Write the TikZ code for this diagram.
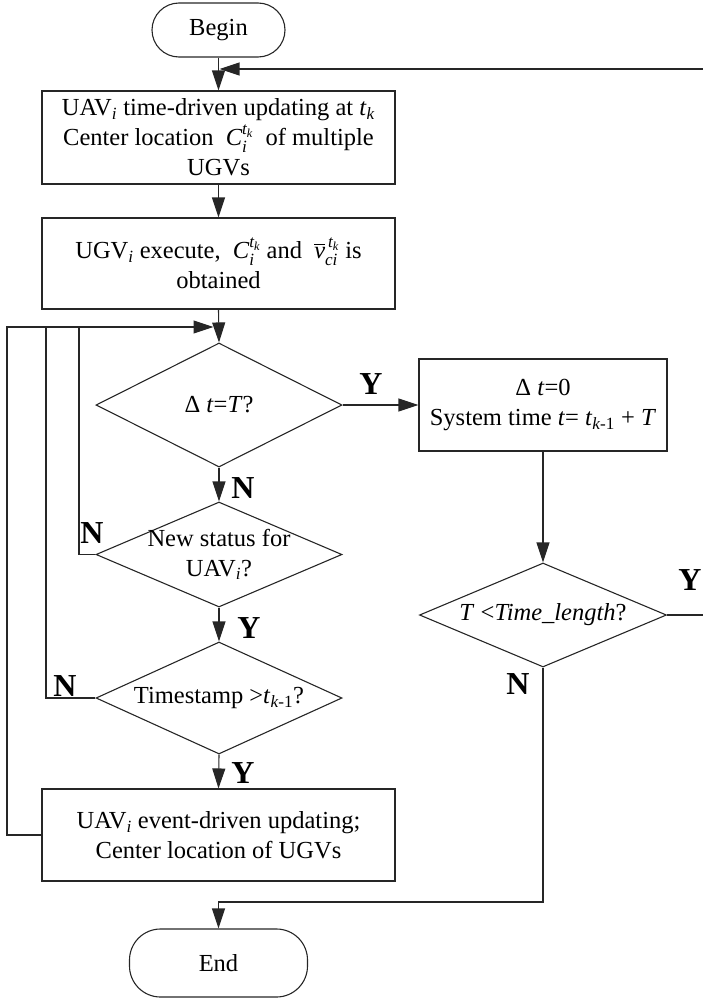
\documentclass[tikz,border=0pt]{standalone}
\usepackage{amsmath}
\usepackage{fontspec}
\setmainfont{Liberation Serif}
\usetikzlibrary{arrows.meta,shapes.geometric}
\tikzset{
  every node/.style={font=\fontsize{24.5}{30}\selectfont},
  ln/.style={draw=black!85, line width=1.1pt},
  arr/.style={ln, -{Triangle[length=20pt,width=13pt]}},
  proc/.style={ln, rectangle, align=center, inner sep=0pt},
  term/.style={ln, rectangle, inner sep=0pt},
  dia/.style={ln, diamond, inner sep=0pt},
  txt/.style={align=center, inner sep=0pt},
  lab/.style={font=\fontsize{32}{32}\selectfont\bfseries, inner sep=0pt}
}
\begin{document}
\begin{tikzpicture}[x=1pt,y=-1pt]
\useasboundingbox (0,0) rectangle (703,1001);
% terminals
\node[term, minimum width=133pt, minimum height=54pt, rounded corners=27pt] (begin) at (218.5,30) {Begin};
\node[term, minimum width=178pt, minimum height=68pt, rounded corners=31pt] (end) at (218.5,963) {End};
% process boxes
\node[proc, minimum width=353pt, minimum height=93pt] (box1) at (218.5,137.5)
  {UAV\textsubscript{\textit{i}} time-driven updating at \textit{t}\textsubscript{\textit{k}}\\
   Center location \ $\textit{C}_{\textit{i}}^{\textit{t}_{\textit{k}}}$ \ of multiple\\ UGVs};
\node[proc, minimum width=353pt, minimum height=91pt] (box2) at (218.5,263.5)
  {UGV\textsubscript{\textit{i}} execute, \ $\textit{C}_{\textit{i}}^{\textit{t}_{\textit{k}}}$ and \ $\overline{\textit{v}}_{\textit{ci}}^{\,\textit{t}_{\textit{k}}}$ is\\ obtained};
\node[proc, minimum width=353pt, minimum height=92pt] (box3) at (218.5,835)
  {UAV\textsubscript{\textit{i}} event-driven updating;\\ Center location of UGVs};
\node[proc, minimum width=248pt, minimum height=92pt] (box4) at (543,405)
  {Δ \textit{t}=0\\ System time \textit{t}= \textit{t}\textsubscript{\textit{k}-1} + \textit{T}};
% decisions
\node[dia, minimum width=246pt, minimum height=124pt] (d1) at (219,405) {};
\node[txt] (d1t) at (d1) {Δ \textit{t}=\textit{T}?};
\node[dia, minimum width=246pt, minimum height=105pt] (d2) at (219,554.5) {};
\node[txt] (d2t) at (d2) {New status for\\ UAV\textsubscript{\textit{i}}?};
\node[dia, minimum width=246pt, minimum height=112pt] (d3) at (219,698) {};
\node[txt] (d3t) at (d3) {Timestamp >\textit{t}\textsubscript{\textit{k}-1}?};
\node[dia, minimum width=247pt, minimum height=104pt] (d4) at (543,615) {};
\node[txt] (d4t) at (d4) {\textit{T} <\textit{Time\_length}?};
% helper coordinates
\coordinate (j) at (218.5,327);
\coordinate (jL) at (7,327);
\coordinate (jA) at (46,327);
\coordinate (jB) at (79,327);
\coordinate (tr) at (704.5,69);
\coordinate (tj) at (219.5,69);
\coordinate (ej) at (218.5,902);
% connectors
\draw[arr] (begin.south) -- (box1.north);
\draw[arr] (box1.south) -- (box2.north);
\draw[arr] (box2.south) -- (d1.north);
\draw[arr] (d1.south) -- (d2.north);
\draw[arr] (d2.south) -- (d3.north);
\draw[arr] (d3.south) -- (box3.north);
\draw[arr] (d1.east) -- (box4.west);
\draw[arr] (box4.south) -- (d4.north);
\draw[arr] (d4.east) -| (tr) -- (tj);
\draw[arr] (d4.south) |- (ej) -- (end.north);
\draw[arr, shorten >=5pt] (box3.west) -| (jL) -- (j);
\draw[ln] (d3.west) -| (jA);
\draw[ln] (d2.west) -| (jB);
% labels
\node[lab] (l1) at (371,384) {Y};
\node[lab] (l2) at (243,488) {N};
\node[lab] (l3) at (92,533) {N};
\node[lab] (l4) at (249,628) {Y};
\node[lab] (l5) at (65,686) {N};
\node[lab] (l6) at (243,773) {Y};
\node[lab] (l7) at (518,684) {N};
\node[lab] (l8) at (690,580) {Y};
\end{tikzpicture}
\end{document}
